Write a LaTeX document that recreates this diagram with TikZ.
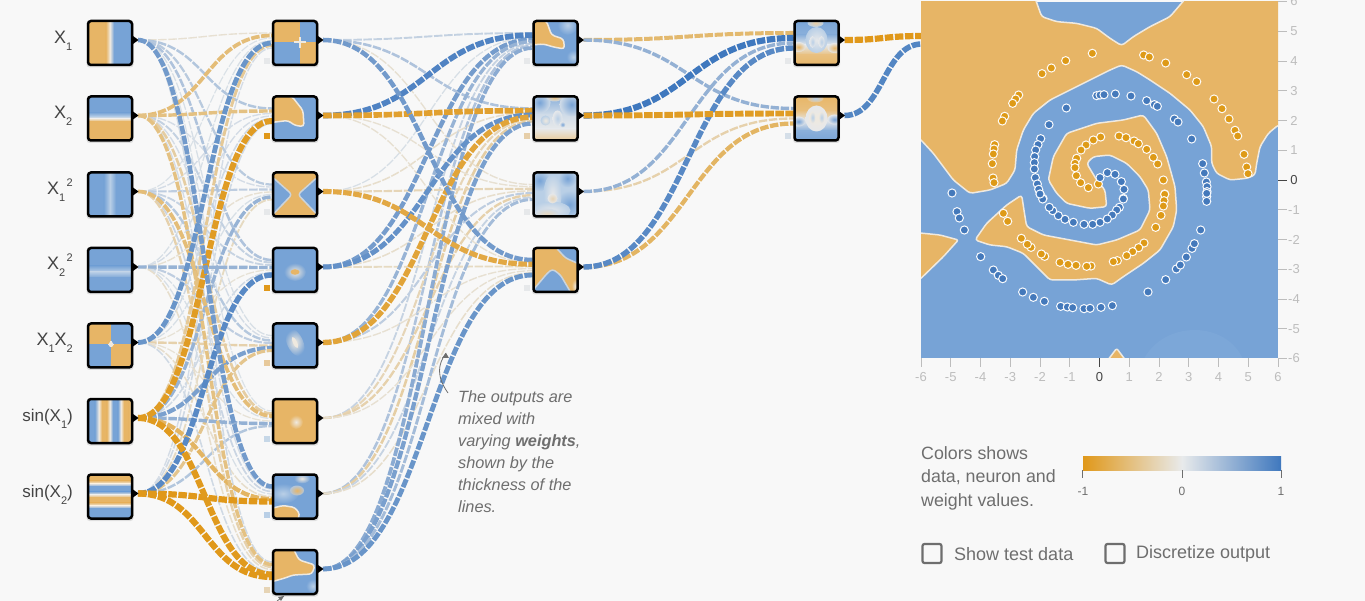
\documentclass[tikz,border=0pt]{standalone}
\usepackage{fontspec}
\setmainfont{Liberation Sans}
\usetikzlibrary{calc,backgrounds}
\definecolor{pagebg}{HTML}{F8F8F8}
\definecolor{org}{HTML}{E7B566}
\definecolor{blu}{HTML}{77A3D6}
\definecolor{soft}{HTML}{EFE9DF}
\definecolor{orng}{HTML}{E0981A}
\definecolor{blue2}{HTML}{3F78BE}
\definecolor{midc}{HTML}{E8EAEB}
\definecolor{dotorg}{HTML}{DE9A17}
\definecolor{dotblu}{HTML}{4479BB}
\definecolor{lbl}{HTML}{444444}
\definecolor{note}{HTML}{6E6E6E}
\definecolor{axis}{HTML}{BDBDBD}
\definecolor{paleb}{HTML}{B9CFE6}
\definecolor{pale}{HTML}{E6E8EA}
\tikzset{
  nbox/.style={minimum size=44pt,inner sep=0pt,outer sep=0pt},
  lnk/.style={dash pattern=on 8.5pt off 1.6pt,line cap=butt},
  reg/.style={fill=org,draw=soft,line width=1.5pt,line join=round},
  regb/.style={fill=blu,draw=soft!70!blu,line width=1.5pt,line join=round},
  bias/.style={minimum size=6pt,inner sep=0pt,outer sep=0pt},
  inlabel/.style={anchor=east,text=lbl,inner sep=0pt,font=\fontsize{18}{18}\selectfont},
  axlab/.style={text=axis,inner sep=0pt,font=\fontsize{13}{13}\selectfont},
  legendtxt/.style={anchor=west,text=note,inner sep=0pt,font=\fontsize{18}{18}\selectfont},
  checkb/.style={draw=note,line width=2.2pt,rounded corners=2pt,minimum size=19pt,inner sep=0pt},
  dotO/.style={fill=dotorg,draw=white!95!org,line width=1pt},
  dotB/.style={fill=dotblu,draw=white!95!blu,line width=1pt},
}
\newcommand{\sbs}[1]{\raisebox{-6.5pt}{\fontsize{11}{11}\selectfont #1}}
\newcommand{\sps}[1]{\raisebox{8pt}{\fontsize{11}{11}\selectfont #1}}
\newcommand{\vbands}[1]{\foreach \xa/\ca/\xb/\cb in {#1}{\shade[left color=\ca,right color=\cb] (\xa-.1,-24) rectangle (\xb+.1,24);}}
\newcommand{\hbands}[1]{\foreach \xa/\ca/\xb/\cb in {#1}{\shade[top color=\ca,bottom color=\cb] (-24,\xa-.1) rectangle (24,\xb+.1);}}
\newcommand{\neuron}[3]{%
  \fill[black,opacity=.10,rounded corners=3pt] (#2-23.5,#3-22.5) rectangle (#2+23.5,#3+24.5);
  \node[nbox] (#1) at (#2,#3) {};
  \coordinate (#1o) at ($(#1.east)+(6,-3)$);
}
\newcommand{\thumb}[2]{%
  \begin{scope}
    \clip[rounded corners=2pt] (#1.south west) rectangle (#1.north east);
    \begin{scope}[shift={(#1.center)}] #2 \end{scope}
  \end{scope}
  \draw[black,line width=2.5pt,rounded corners=3pt] (#1.south west) rectangle (#1.north east);
  \fill[black] ($(#1.east)+(1,-7)$) -- ($(#1.east)+(6.5,-3)$) -- ($(#1.east)+(1,1)$) -- cycle;
}
\newcommand{\lnkraw}[3]{%
  \pgfmathtruncatemacro\aw{abs(#3)}%
  \pgfmathtruncatemacro\lv{min(2,\aw/35)}%
  \ifnum\lv=\curlev\relax
    \pgfmathsetmacro\lw{0.7+0.055*\aw}%
    \ifnum#3<0 \def\cc{orng}\else\def\cc{blue2}\fi
    \coordinate (ctr) at ($(#1)!.5!(#2)$);
    \draw[lnk,line width=\lw pt,color=\cc!\aw!midc] (#1) .. controls (ctr|-#1) and (ctr|-#2) .. (#2);
  \fi
}
\newcommand{\wlinks}[4]{%
  \foreach \w [count=\k] in {#4} {%
    \pgfmathsetmacro\off{-10+15*(\k-1)/(#3-1)}%
    \coordinate (ee) at ($(#1.west)+(-1,\off)$);
    \lnkraw{#2\k o}{ee}{\w}%
  }%
}
\begin{document}
\begin{tikzpicture}[x=1pt,y=-1pt]
\useasboundingbox (0,0) rectangle (1365,601);
\begin{pgfonlayer}{background}
  \fill[pagebg] (0,0) rectangle (1365,601);
\end{pgfonlayer}
\foreach \i/\yy in {1/43,2/118.5,3/194.5,4/270,5/345.5,6/421,7/496.5}{\neuron{i\i}{110}{\yy}}
\foreach \i/\yy in {1/43,2/118.5,3/194.5,4/270,5/345.5,6/421,7/496.5,8/572}{\neuron{n\i}{295}{\yy}}
\foreach \i/\yy in {1/43,2/118.5,3/194.5,4/270}{\neuron{m\i}{555.5}{\yy}}
\foreach \i/\yy in {1/43,2/118.5}{\neuron{o\i}{816.5}{\yy}}
\node[nbox,minimum width=357pt,minimum height=356pt] (out) at (1099.5,180) {};
\coordinate (outa) at ($(out.west)+(1,-144)$);
\coordinate (outb) at ($(out.west)+(1,-136)$);
\begin{pgfonlayer}{background}
\foreach \curlev in {0,1,2}{
  \wlinks{n1}{i}{7}{-12,-55,8,10,75,-40,12}
  \wlinks{n2}{i}{7}{32,-50,12,12,15,-95,15}
  \wlinks{n3}{i}{7}{28,12,25,-12,10,48,-20}
  \wlinks{n4}{i}{7}{34,22,20,48,-10,15,85}
  \wlinks{n5}{i}{7}{10,12,30,25,-30,65,-45}
  \wlinks{n6}{i}{7}{8,-35,-55,10,-10,50,32}
  \wlinks{n7}{i}{7}{70,12,18,10,-15,-65,-100}
  \wlinks{n8}{i}{7}{15,-50,-30,-15,15,-98,-100}
  \wlinks{m1}{n}{8}{22,90,10,68,48,20,34,55}
  \wlinks{m2}{n}{8}{34,-90,-15,78,-85,-25,-34,65}
  \wlinks{m3}{n}{8}{-12,-12,-25,-15,25,-30,20,40}
  \wlinks{m4}{n}{8}{70,-12,-80,-20,-12,-12,-15,75}
  \wlinks{o1}{m}{4}{-60,100,50,85}
  \wlinks{o2}{m}{4}{50,-95,-30,-65}
  \lnkraw{o1o}{outa}{-100}
  \lnkraw{o2o}{outb}{88}
}
\end{pgfonlayer}
% input thumbnails
\thumb{i1}{\vbands{-24/org/-4/org,-4/org/0/soft,0/soft/4/blu,4/blu/24/blu}}
\thumb{i2}{\hbands{-24/blu/-6/blu,-6/blu/-2/paleb,-2/paleb/0/soft,0/soft/3/org,3/org/24/org}}
\thumb{i3}{\vbands{-24/blu/-6/blu,-6/blu/0/paleb,0/paleb/6/blu,6/blu/24/blu}}
\thumb{i4}{\hbands{-24/blu/-4/blu,-4/blu/2/paleb,2/paleb/8/blu,8/blu/24/blu}}
\thumb{i5}{\fill[blu] (-24,-24) rectangle (24,24); \fill[org] (-24,-24) rectangle (1,-1); \fill[org] (1,-1) rectangle (24,24); \draw[soft,line width=1.5pt] (1,-4)--(1,2) (-2,-1)--(4,-1);\fill[soft] (1,-1) circle (2.5);}
\thumb{i6}{\vbands{-24/blu/-15/blu,-15/blu/-11/soft,-11/soft/-8/org,-8/org/-3/org,-3/org/0/soft,0/soft/3/blu,3/blu/8/blu,8/blu/11/soft,11/soft/14/org,14/org/19/org,19/org/24/soft}}
\thumb{i7}{\hbands{-24/org/-16/org,-16/org/-13/soft,-13/soft/-10/blu,-10/blu/-5/blu,-5/blu/-2/soft,-2/soft/1/org,1/org/6/org,6/org/9/soft,9/soft/12/blu,12/blu/24/blu}}
% hidden layer 1
\thumb{n1}{\fill[blu] (-24,-24) rectangle (24,24); \fill[org] (-24,-24) rectangle (5,-1); \fill[org] (5,-1) rectangle (24,24); \draw[soft,line width=2pt] (5,-6)--(5,5) (-1,-1)--(11,-1);}
\thumb{n2}{\fill[blu] (-24,-24) rectangle (24,24); \draw[reg,rounded corners=3pt] (-24,-24)--(-3,-22)--(8,-8)--(9,8)--(0,7)--(-7,2)--(-24,4)--cycle;}
\thumb{n3}{\fill[org] (-24,-24) rectangle (24,24); \draw[regb,rounded corners=3pt] (-30,-20)--(-22,-17)--(-3,0)--(-22,20)--(-30,22)--cycle; \draw[regb,rounded corners=3pt] (30,-20)--(22,-17)--(3,0)--(22,20)--(30,22)--cycle;}
\thumb{n4}{\fill[blu] (-24,-24) rectangle (24,24); \shade[inner color=soft,outer color=blu] (0,2) ellipse (11 and 9); \fill[org] (0,2) ellipse (4.5 and 2.8);}
\thumb{n5}{\fill[blu] (-24,-24) rectangle (24,24); \shade[inner color=soft,outer color=blu,rotate around={25:(0,-3)}] (0,-3) ellipse (8 and 15); \fill[soft,rotate around={25:(0,-3)}] (0,-3) ellipse (2 and 6);}
\thumb{n6}{\fill[org] (-24,-24) rectangle (24,24); \shade[inner color=soft,outer color=org] (1,1) circle (7);}
\thumb{n7}{\fill[blu] (-24,-24) rectangle (24,24); \shade[inner color=paleb,outer color=blu] (-12,-3) ellipse (16 and 10); \shade[inner color=soft,outer color=blu] (7,-18) ellipse (8 and 5); \shade[inner color=org,outer color=blu!50!soft] (2,-6) ellipse (7 and 5); \draw[reg,rounded corners=3pt] (-24,12)--(-12,9)--(0,11)--(5,18)--(2,24)--(-24,24)--cycle;}
\thumb{n8}{\fill[blu] (-24,-24) rectangle (24,24); \shade[inner color=paleb,outer color=blu] (18,14) circle (7); \draw[reg,rounded corners=3pt] (-24,-24)--(-2,-24)--(4,-12)--(20,-7)--(17,2)--(-2,3)--(-10,6)--(-24,10)--cycle;}
% hidden layer 2
\thumb{m1}{\fill[blu] (-24,-24) rectangle (24,24); \shade[inner color=paleb,outer color=blu] (12,-18) circle (10); \shade[inner color=paleb,outer color=blu] (18,14) circle (7); \draw[reg,draw=soft,rounded corners=3pt] (-24,-24)--(-9,-22)--(-4,-8)--(8,-4)--(9,6)--(-2,4)--(-12,1)--(-24,2)--cycle;}
\thumb{m2}{\hbands{-24/blu!85!paleb/-4/pale!50!paleb,-4/pale!50!paleb/10/pale,10/pale/24/org!70!soft}\shade[inner color=blu,outer color=pale!50!paleb] (-16,-16) circle (11);\shade[inner color=blu,outer color=pale!50!paleb] (16,-14) circle (12);\shade[inner color=org!70!soft,outer color=pale!30!paleb] (-1,-21) ellipse (8 and 4);\shade[inner color=paleb,outer color=pale] (2,0) ellipse (5 and 8);\shade[inner color=blu,outer color=pale] (7,6) circle (3);\shade[inner color=soft,outer color=paleb] (-10,2) circle (5);}
\thumb{m3}{\fill[paleb] (-24,-24) rectangle (24,24); \shade[inner color=blu,outer color=paleb] (14,10) circle (14); \shade[inner color=blu,outer color=paleb] (-16,-14) circle (11); \shade[inner color=blu,outer color=paleb] (12,-16) circle (9); \shade[inner color=pale,outer color=paleb] (-3,0) ellipse (9 and 20); \shade[inner color=pale,outer color=paleb] (-5,16) ellipse (20 and 9); \shade[inner color=org!40!pale,outer color=pale] (-3,4) circle (5);\shade[inner color=org!30!pale,outer color=pale!50!paleb] (-9,19) ellipse (12 and 5);}
\thumb{m4}{\fill[org] (-24,-24) rectangle (24,24); \draw[regb,rounded corners=3pt] (-26,26)--(-24,22)--(-8,3)--(-3,-1)--(5,5)--(15,22)--(16,26)--cycle; \draw[regb,rounded corners=3pt] (0,-26)--(0,-23)--(10,-12)--(26,-5)--(26,-26)--cycle;\shade[inner color=soft,outer color=org] (20,16) ellipse (4 and 7);}
% layer 3
\thumb{o1}{\hbands{-24/blu/-8/blu!70!paleb,-8/blu!70!paleb/2/pale,2/pale/12/org!80!soft,12/org!80!soft/24/org}\shade[inner color=org!50!soft,outer color=paleb] (-1,-20) ellipse (8 and 4);\shade[inner color=org,outer color=pale] (-18,4) ellipse (7 and 5);\shade[inner color=org,outer color=pale] (18,5) ellipse (7 and 5);\shade[inner color=pale,outer color=paleb] (0,-3) ellipse (11 and 13);\shade[inner color=paleb,outer color=pale] (-4,-1) ellipse (3 and 6);\shade[inner color=paleb,outer color=pale] (5,-1) ellipse (3 and 6);}
\thumb{o2}{\hbands{-24/org/-8/org!80!soft,-8/org!80!soft/2/pale,2/pale/12/blu!70!paleb,12/blu!70!paleb/24/blu}\shade[inner color=paleb,outer color=org!70!soft] (-1,-20) ellipse (8 and 4);\shade[inner color=blu,outer color=pale] (-18,3) ellipse (7 and 5);\shade[inner color=blu,outer color=pale] (18,1) ellipse (7 and 5);\shade[inner color=soft,outer color=pale] (0,0) ellipse (11 and 13);\shade[inner color=paleb,outer color=soft] (-4,-1) ellipse (3 and 6);\shade[inner color=paleb,outer color=soft] (5,-1) ellipse (3 and 6);}
% biases
\foreach \nm/\cl in {n1/pale,n2/orng,n3/pale,n4/orng,n5/org!60!pale,n6/paleb!70!pale,n7/paleb,n8/org!40!pale,m1/pale,m2/org!50!pale,m3/pale,m4/pale,o1/pale,o2/paleb!40!pale}{
  \node[bias,fill=\cl] (b\nm) at ($(\nm.west)+(-6.5,18)$) {};
}
% input labels
\node[inlabel] (l1) at (72.5,41) {X\sbs{1}};
\node[inlabel] (l2) at (72.5,116) {X\sbs{2}};
\node[inlabel] (l3) at (73,190) {X\sbs{1}\hspace{1.5pt}\sps{2}};
\node[inlabel] (l4) at (73,265) {X\sbs{2}\hspace{1.5pt}\sps{2}};
\node[inlabel] (l5) at (73,343) {X\sbs{1}X\sbs{2}};
\node[inlabel,font=\fontsize{17}{17}\selectfont] (l6) at (73,419) {sin(X\sbs{1})};
\node[inlabel,font=\fontsize{17}{17}\selectfont] (l7) at (73,495) {sin(X\sbs{2})};
% output map
\begin{scope}
  \clip (out.south west) rectangle (out.north east);
  \fill[blu] (out.south west) rectangle (out.north east);
  \begin{scope}[shift={(910,0)},scale=0.33333]
    \fill[blu!96!white] (700,1080) .. controls (760,960) and (950,960) .. (1000,1080) -- cycle;
    \draw[reg,rounded corners=3pt] (20,-20)--(370,-20)--(395,50)--(440,65)--(500,70)--(560,85)--(600,115)--(635,137)--(670,110)--(720,80)--(780,50)--(840,-20)--(1125,-20)--(1125,372)--(1105,375)--(1075,400)--(1050,440)--(1040,490)--(1035,525)--(1010,535)--(960,540)--(920,520)--(905,490)--(905,440)--(880,380)--(840,330)--(780,280)--(720,240)--(680,215)--(635,195)--(600,210)--(540,240)--(480,270)--(420,300)--(370,340)--(340,390)--(320,450)--(315,510)--(290,550)--(240,570)--(180,580)--(130,540)--(100,500)--(70,460)--(33,420)--(20,410)--cycle;
    \draw[reg,rounded corners=3pt] (640,360)--(700,345)--(740,400)--(770,470)--(795,560)--(800,630)--(790,680)--(750,750)--(700,790)--(640,830)--(605,855)--(560,835)--(490,840)--(420,840)--(380,800)--(340,760)--(290,740)--(240,735)--(195,720)--(230,670)--(290,615)--(335,585)--(345,650)--(350,680)--(400,705)--(480,720)--(560,735)--(620,720)--(690,690)--(720,630)--(715,570)--(690,530)--(650,490)--(600,465)--(550,470)--(530,490)--(560,540)--(585,570)--(590,620)--(540,625)--(470,610)--(440,580)--(415,540)--(430,470)--(470,400)--(560,370)--cycle;
    \draw[reg,rounded corners=2pt] (20,698)--(90,705)--(145,720)--(100,770)--(33,835)--(20,845)--cycle;
    \draw[reg,rounded corners=2pt] (590,1085)--(620,1045)--(650,1085)--cycle;
  \end{scope}
\end{scope}
% dots
\foreach \a/\b in {547/160,467/182,424/204,396/221,326/285,317/297,308/310,284/349,277/363,254/434,252/447,250/462,247/491,249/534,252/548,701/165,718/171,767/189,830/224,860/245,912/297,936/326,957/357,975/391,983/408,1002/463,1010/501,1014/521,572/411,550/420,528/435,513/450,500/475,495/490,495/503,499/527,512/548,535/563,565/552,627/408,648/413,672/423,685/431,710/448,730/472,743/492,760/540,764/582,764/583,762/602,760/618,753/646,737/682,702/729,686/743,668/755,650/767,622/782,610/785,543/798,530/799,498/796,474/793,450/787,404/769,394/762,363/742,352/733,334/715,293/664,280/640}{
  \filldraw[dotO] (910+\a/3,\b/3) circle (4.1);
}
\foreach \a/\b in {126/579,469/324,417/374,392/416,384/434,377/450,374/470,373/488,373/507,376/533,382/552,386/568,391/583,399/595,560/287,570/285,582/284,616/282,663/288,710/302,733/314,742/319,793/357,804/366,845/417,878/491,883/519,889/546,891/560,891/575,890/590,570/533,592/518,615/523,634/545,642/568,640/595,141/635,148/654,163/690,212/770,250/810,265/826,278/836,338/876,370/892,403/904,452/919,472/921,488/923,522/926,540/925,573/922,607/917,714/876,767/839,799/807,811/795,829/771,846/745,853/731,872/690,890/580,890/604,640/597,628/622,620/630,607/645,592/657,570/667,548/673,522/673,490/667,465/658,445/647,428/632,418/622,398/597,390/582}{
  \filldraw[dotB] (910+\a/3,\b/3) circle (4.1);
}
% axes
\foreach \v in {-6,...,6}{
  \ifnum\v=0 \def\tc{lbl}\else\def\tc{axis}\fi
  \draw[\tc,line width=0.8pt] (1099.5+\v*29.75,358) -- +(0,9);
  \draw[\tc,line width=0.8pt] (1278,180-\v*29.75) -- +(9,0);
  \node[axlab,text=\tc] (ab\v) at (1099.5+\v*29.75,377) {\v};
  \node[axlab,text=\tc] (ar\v) at (1294,180-\v*29.75) {\v};
}
% annotation
\node[anchor=north west,align=left,inner sep=0pt,text=note,font=\fontsize{16.3}{22}\selectfont\itshape] (noteb) at (458,390)
  {The outputs are\\mixed with\\varying \textbf{weights},\\shown by the\\thickness of the\\lines.};
\coordinate (nh) at (446,353);
\draw[note,line width=0.8pt] (448,393) .. controls (436,376) and (438,364) .. (nh);
\fill[note] (nh) -- (442,358) -- (449,358) -- cycle;
\coordinate (nk) at (284,596);
\draw[note,line width=0.8pt] (277,601) -- (nk);
\fill[note] (nk) -- (278,597) -- (281,601) -- cycle;
% legend
\node[anchor=north west,align=left,inner sep=0pt,text=note,font=\fontsize{17.8}{23.5}\selectfont] (legtext) at (921,446)
  {Colors shows\\data, neuron and\\weight values.};
\node[inner sep=0pt,minimum width=198pt,minimum height=14pt,left color=orng,right color=blue2,middle color=midc] (cbar) at (1182,463) {};
\draw[note,line width=0.8pt] (cbar.south west) -- +(0,8);
\draw[note,line width=0.8pt] (cbar.south) -- +(0,8);
\draw[note,line width=0.8pt] (cbar.south east) -- +(0,8);
\node[inner sep=0pt,text=note,font=\fontsize{12}{12}\selectfont] (cb1) at (1083,491.5) {-1};
\node[inner sep=0pt,text=note,font=\fontsize{12}{12}\selectfont] (cb2) at (1182,491.5) {0};
\node[inner sep=0pt,text=note,font=\fontsize{12}{12}\selectfont] (cb3) at (1281,491.5) {1};
\node[checkb] (c1) at (932,553.5) {};
\node[legendtxt] (c1t) at (954,554) {Show test data};
\node[checkb] (c2) at (1115,553.5) {};
\node[legendtxt] (c2t) at (1136,554) {Discretize output};
\end{tikzpicture}
\end{document}
